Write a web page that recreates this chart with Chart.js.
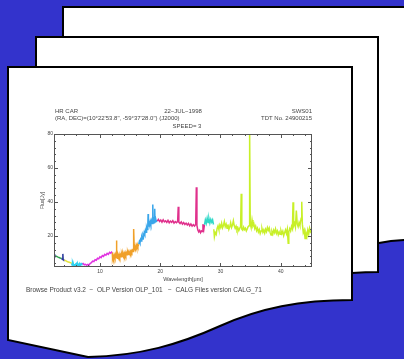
<!DOCTYPE html>
<html>
<head>
<meta charset="utf-8">
<script src="https://cdn.jsdelivr.net/npm/chart.js@4.4.1/dist/chart.umd.min.js"></script>
<style>
  html, body { margin: 0; padding: 0; background: #3333cc; }
  #wrap { position: relative; width: 404px; height: 359px; overflow: hidden; background: #3333cc; }
  svg, canvas { position: absolute; left: 0; top: 0; }
  .t { position: absolute; font-family: "Liberation Sans", Arial, sans-serif; font-size: 6px; line-height: 7px; color: #444; white-space: pre; }
</style>
</head>
<body>
<div id="wrap">
  <svg width="404" height="359" viewBox="0 0 404 359">
    <path d="M63,7 H408 V240 Q392,240 379,243 L63,243 Z" fill="#fff" stroke="#000" stroke-width="2"/>
    <path d="M36,37 H378 V272 Q366,272 352,273 L36,273 Z" fill="#fff" stroke="#000" stroke-width="2"/>
    <path d="M8,67 H352 V300 C300,300 260,308 220,326 C180,344 140,356 88,357 L8,340 Z" fill="#fff" stroke="#000" stroke-width="2"/>
  </svg>
  <canvas id="c" width="404" height="359"></canvas>
  <div class="t" style="left:55px;top:108px;">HR CAR</div>
  <div class="t" style="left:55px;top:115px;">(RA, DEC)=(10°22'53.8", -59°37'28.0") (J2000)</div>
  <div class="t" style="left:143px;top:108px;width:80px;text-align:center;">22−JUL−1998</div>
  <div class="t" style="left:147px;top:123px;width:80px;text-align:center;">SPEED= 3</div>
  <div class="t" style="right:92px;top:108px;text-align:right;">SWS01</div>
  <div class="t" style="right:92px;top:115px;text-align:right;">TDT No. 24900215</div>
  <div class="t" style="left:26px;top:286px;font-size:6.5px;">Browse Product v3.2  −  OLP Version OLP_101   −  CALG Files version CALG_71</div>
</div>
<script>
// ---- data (wavelength in micron, flux in Jy), one array pair per band segment ----
const X_TICKS = [10, 20, 30, 40];
const Y_TICKS = [20, 40, 60, 80];

const SEG_A_WL   = [2.38, 2.45, 2.52, 2.6];
const SEG_A_FLUX = [9.4, 9.0, 8.7, 8.4];

const SEG_B_WL   = [2.6, 2.75, 2.9, 3.05, 3.2, 3.4, 3.6];
const SEG_B_FLUX = [8.4, 8.1, 7.9, 7.6, 7.4, 7.1, 6.9];

const SEG_C_WL   = [3.6, 3.7, 3.8, 3.85, 3.9, 3.95, 4.08];
const SEG_C_FLUX = [6.9, 6.6, 6.4, 9.5, 6.3, 6.1, 5.9];

const SEG_D_WL   = [4.08, 4.25, 4.4, 4.55, 4.7, 4.85, 5.0, 5.15, 5.3];
const SEG_D_FLUX = [5.9, 5.6, 5.4, 5.0, 4.8, 4.7, 4.4, 4.3, 4.1];

const SEG_E_WL   = [5.3, 5.38, 5.46, 5.54, 5.62, 5.7, 5.78, 5.86, 5.94, 6.02, 6.1, 6.18, 6.26, 6.34, 6.42, 6.5, 6.58, 6.66, 6.74, 6.82, 6.9, 7.0];
const SEG_E_FLUX = [4.1, 3.0, 3.8, 2.6, 3.4, 2.4, 3.6, 2.7, 3.3, 2.3, 3.5, 2.8, 3.9, 2.6, 3.2, 2.9, 3.7, 2.8, 3.4, 3.1, 3.8, 3.5];

const SEG_F_WL   = [7.0, 7.2, 7.4, 7.6, 7.8, 8.0, 8.2, 8.4, 8.6, 8.8, 9.0, 9.2, 9.4, 9.6, 9.8, 10.0, 10.2, 10.4, 10.6, 10.8, 11.0, 11.2, 11.4, 11.6, 11.8, 12.0];
const SEG_F_FLUX = [3.5, 3.9, 3.1, 3.4, 2.8, 3.3, 3.0, 4.0, 4.4, 5.3, 5.0, 6.1, 5.8, 7.0, 6.6, 7.8, 7.3, 8.5, 8.0, 9.2, 8.7, 9.8, 9.2, 10.4, 9.9, 10.9];

const SEG_G_WL   = [12.05, 12.1, 12.2, 12.3, 12.4, 12.5, 12.6, 12.7, 12.75, 12.8, 12.9, 13.0, 13.1, 13.2, 13.3, 13.4, 13.5, 13.6, 13.7, 13.8, 13.9, 14.0, 14.1, 14.2, 14.3, 14.4, 14.5, 14.6, 14.7, 14.8, 14.9, 15.0, 15.1, 15.2, 15.3, 15.4, 15.5, 15.6, 15.7, 15.8, 15.9, 16.0, 16.1, 16.2, 16.3, 16.45];
const SEG_G_FLUX = [10.5, 6.8, 8.4, 6.9, 8.6, 7.2, 9.0, 7.4, 17.4, 8.8, 7.0, 8.7, 7.3, 9.1, 7.6, 8.9, 7.8, 9.4, 8.0, 9.6, 8.2, 9.9, 8.5, 10.2, 8.8, 10.0, 9.0, 10.6, 9.3, 10.4, 9.6, 11.0, 9.9, 11.3, 10.4, 11.6, 10.9, 24.2, 12.0, 13.6, 12.2, 14.3, 12.9, 15.0, 13.8, 15.2];

const SEG_H_WL   = [16.45, 16.55, 16.65, 16.75, 16.85, 16.95, 17.05, 17.15, 17.25, 17.35, 17.45, 17.55, 17.65, 17.75, 17.85, 17.95, 18.0, 18.05, 18.15, 18.25, 18.35, 18.45, 18.55, 18.65, 18.75, 18.8, 18.85, 18.95, 19.05, 19.1, 19.15, 19.25, 19.35, 19.5];
const SEG_H_FLUX = [15.2, 16.8, 15.9, 18.0, 17.1, 19.4, 18.3, 20.6, 19.6, 22.0, 21.0, 23.4, 22.3, 25.0, 23.8, 26.4, 33.0, 25.6, 27.9, 26.4, 28.6, 27.0, 29.0, 27.4, 28.8, 38.5, 27.6, 29.6, 28.0, 36.0, 28.4, 30.2, 28.6, 28.8];

const SEG_I_WL   = [19.5, 19.7, 19.9, 20.1, 20.3, 20.5, 20.7, 20.9, 21.1, 21.3, 21.5, 21.7, 21.9, 22.1, 22.3, 22.5, 22.7, 22.9, 23.0, 23.1, 23.3, 23.5, 23.7, 23.9, 24.1, 24.3, 24.5, 24.7, 24.9, 25.1, 25.3, 25.5, 25.7, 25.9, 26.0, 26.1, 26.25, 26.4, 26.55, 26.7, 26.85, 27.0, 27.1, 27.25, 27.35];
const SEG_I_FLUX = [28.8, 29.8, 28.6, 29.4, 28.2, 29.6, 28.4, 29.0, 28.0, 29.2, 27.8, 28.8, 28.1, 29.0, 27.6, 28.5, 27.9, 28.6, 37.2, 28.2, 27.4, 28.3, 27.0, 27.9, 26.8, 27.6, 26.5, 27.4, 26.0, 27.1, 25.8, 26.7, 25.9, 26.8, 48.7, 26.2, 23.5, 22.4, 23.3, 22.0, 23.0, 22.6, 27.0, 24.0, 26.5];

const SEG_J_WL   = [27.35, 27.5, 27.65, 27.8, 27.95, 28.1, 28.25, 28.4, 28.55, 28.7, 28.85];
const SEG_J_FLUX = [26.5, 29.5, 27.5, 30.5, 28.0, 30.2, 27.6, 29.8, 28.2, 29.5, 26.8];

const SEG_K_WL   = [28.9, 29.0, 29.15, 29.3, 29.45, 29.6, 29.75, 29.9, 30.05, 30.2, 30.35, 30.5, 30.65, 30.8, 30.95, 31.1, 31.25, 31.4, 31.55, 31.7, 31.85, 32.0, 32.15, 32.3, 32.45, 32.6, 32.75, 32.9, 33.05, 33.2, 33.35, 33.45, 33.55, 33.7, 33.85, 34.0, 34.15, 34.3, 34.45, 34.6, 34.75, 34.85, 34.95, 35.1, 35.25, 35.4, 35.55, 35.7, 35.85, 36.0, 36.15, 36.3, 36.45, 36.6, 36.75, 36.9, 37.05, 37.2, 37.35, 37.5, 37.65, 37.8, 37.95, 38.1, 38.25, 38.4, 38.55, 38.7, 38.85, 39.0, 39.15, 39.3, 39.45, 39.6, 39.75, 39.9, 40.05, 40.2, 40.35, 40.5, 40.65, 40.8, 40.95, 41.1, 41.25, 41.35, 41.5, 41.65, 41.8, 41.95, 42.05, 42.15, 42.3, 42.45, 42.6, 42.75, 42.9, 43.05, 43.2, 43.4, 43.5, 43.6, 43.75, 43.9, 44.05, 44.2, 44.35, 44.5, 44.65, 44.8, 44.95, 45.1, 45.2];
const SEG_K_FLUX = [24.0, 19.5, 22.0, 21.0, 24.5, 26.0, 23.8, 26.5, 25.0, 27.5, 24.8, 26.2, 28.5, 25.5, 27.0, 24.6, 26.8, 23.9, 25.4, 27.8, 25.0, 26.4, 29.0, 26.0, 24.5, 25.8, 23.6, 24.8, 23.2, 24.5, 25.6, 44.8, 24.0, 23.4, 25.2, 23.8, 24.6, 23.0, 24.2, 25.5, 26.0, 82.0, 27.5, 25.0, 29.5, 26.0, 27.2, 24.4, 25.8, 23.2, 24.6, 22.4, 23.8, 21.5, 23.0, 24.4, 22.2, 23.6, 21.8, 24.0, 22.6, 25.0, 23.4, 24.8, 22.0, 20.6, 22.8, 21.2, 23.5, 22.0, 24.2, 21.6, 23.0, 20.8, 22.4, 21.0, 23.2, 21.4, 22.8, 20.2, 22.0, 23.6, 21.5, 24.0, 15.8, 22.5, 24.4, 23.0, 25.6, 24.2, 39.8, 26.0, 27.5, 25.2, 35.0, 27.0, 25.5, 28.0, 26.2, 30.5, 40.2, 27.0, 22.0, 23.5, 18.6, 21.8, 19.8, 23.5, 21.2, 24.6, 22.5, 23.4, 22.8];

const SEGMENTS = [
  { wl: SEG_A_WL, flux: SEG_A_FLUX, color: '#2c3c9c' },
  { wl: SEG_B_WL, flux: SEG_B_FLUX, color: '#2fa04e' },
  { wl: SEG_C_WL, flux: SEG_C_FLUX, color: '#2c3c9c' },
  { wl: SEG_D_WL, flux: SEG_D_FLUX, color: '#e4e23a' },
  { wl: SEG_E_WL, flux: SEG_E_FLUX, color: '#2fd2f0' },
  { wl: SEG_F_WL, flux: SEG_F_FLUX, color: '#e030e0' },
  { wl: SEG_G_WL, flux: SEG_G_FLUX, color: '#f0a028' },
  { wl: SEG_H_WL, flux: SEG_H_FLUX, color: '#3aa6ea' },
  { wl: SEG_I_WL, flux: SEG_I_FLUX, color: '#e0308c' },
  { wl: SEG_J_WL, flux: SEG_J_FLUX, color: '#30d8c8' },
  { wl: SEG_K_WL, flux: SEG_K_FLUX, color: '#c8f028' }
];

const datasets = SEGMENTS.map(s => ({
  data: s.wl.map((w, i) => ({ x: w, y: s.flux[i] })),
  borderColor: s.color,
  borderWidth: 1.5,
  pointRadius: 0,
  tension: 0,
  fill: false
}));

const frameTicks = {
  id: 'frameTicks',
  afterDatasetsDraw(chart) {
    const { ctx, chartArea: { left, right, top, bottom }, scales: { x, y } } = chart;
    ctx.save();
    ctx.strokeStyle = '#555';
    ctx.lineWidth = 1;
    ctx.strokeRect(Math.round(left) + 0.5, Math.round(top) + 0.5, Math.round(right - left) - 1, Math.round(bottom - top) - 1);
    ctx.beginPath();
    for (let v = 4; v <= 44; v += 2) {
      const px = Math.round(x.getPixelForValue(v)) + 0.5;
      const len = v % 10 === 0 ? 4 : 2;
      ctx.moveTo(px, bottom); ctx.lineTo(px, bottom - len);
      ctx.moveTo(px, top); ctx.lineTo(px, top + len);
    }
    for (let v = 4; v < 80; v += 4) {
      const py = Math.round(y.getPixelForValue(v)) + 0.5;
      const len = v % 20 === 0 ? 4 : 2;
      ctx.moveTo(left, py); ctx.lineTo(left + len, py);
      ctx.moveTo(right, py); ctx.lineTo(right - len, py);
    }
    ctx.stroke();
    ctx.restore();
  }
};

new Chart(document.getElementById('c'), {
  type: 'line',
  data: { datasets },
  options: {
    responsive: false,
    devicePixelRatio: 1,
    animation: false,
    layout: { padding: { top: 134, left: 40, right: 92, bottom: 76 } },
    plugins: { legend: { display: false }, tooltip: { enabled: false } },
    scales: {
      x: {
        type: 'linear',
        min: 2.38,
        max: 45.2,
        afterBuildTicks: s => { s.ticks = X_TICKS.map(v => ({ value: v })); },
        afterFit: s => { s.height = 16; },
        grid: { display: false, drawTicks: false },
        border: { display: false },
        ticks: { font: { size: 5, family: 'Liberation Sans' }, color: '#444', padding: 2, maxRotation: 0, autoSkip: false },
        title: { display: true, text: 'Wavelength[μm]', font: { size: 5.5, family: 'Liberation Sans' }, color: '#444', padding: 0 }
      },
      y: {
        type: 'linear',
        min: 1.8,
        max: 80,
        afterBuildTicks: s => { s.ticks = Y_TICKS.map(v => ({ value: v })); },
        afterFit: s => { s.width = 14; },
        grid: { display: false, drawTicks: false },
        border: { display: false },
        ticks: { font: { size: 5, family: 'Liberation Sans' }, color: '#444', padding: 1, autoSkip: false },
        title: { display: true, text: 'Flux[Jy]', font: { size: 5, family: 'Liberation Sans' }, color: '#444', padding: 0 }
      }
    }
  },
  plugins: [frameTicks]
});
</script>
</body>
</html>
